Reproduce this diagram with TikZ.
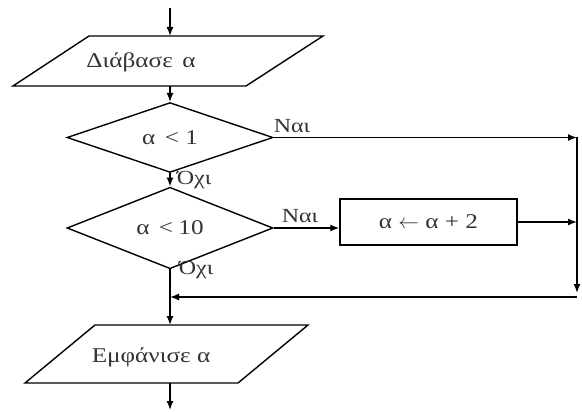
\documentclass[tikz,border=0pt]{standalone}
\usepackage{fontspec}
\setmainfont{Liberation Serif}[FakeStretch=1.2]
\usetikzlibrary{arrows.meta,shapes.geometric}
\tikzset{
  line/.style={draw=black, line width=1.4pt},
  arr/.style={line, -{Latex[length=9pt,width=7pt]}},
  txt/.style={font=\fontsize{21}{23}\selectfont, text=black!80, inner sep=0pt},
  decision/.style={diamond, line, txt, minimum width=206pt, minimum height=51pt, inner sep=0pt},
  process/.style={rectangle, line, txt, minimum width=177pt, minimum height=46pt},
  iobox/.style={line, fill=white},
  lbl/.style={txt, font=\fontsize{20}{22}\selectfont}
}
\begin{document}
\begin{tikzpicture}[x=1pt, y=-1pt]
\useasboundingbox (0,0) rectangle (582,412);
% input parallelogram
\draw[iobox] (89,36) -- (323,36) -- (246,86) -- (13,86) -- cycle;
\node[txt] (rd) at (141,62) {Διάβασε\hspace{0.45em}α};
\coordinate (start) at (170,8);
\coordinate (p1t) at (170,36);
\coordinate (p1b) at (170,86);
% decisions
\node[decision] (d1) at (170,137.5) {α\hspace{0.45em}<\hspace{0.3em}1};
\node[decision] (d2) at (170,228) {α\hspace{0.45em}<\hspace{0.25em}10};
% process
\node[process] (r) at (428.5,222) {α\hspace{0.3em}$\leftarrow$\hspace{0.3em}α + 2};
% output parallelogram
\draw[iobox] (95,325) -- (308,325) -- (238,383) -- (25,383) -- cycle;
\node[txt] (wr) at (151,357) {Εμφάνισε α};
\coordinate (p2t) at (170,325);
\coordinate (p2b) at (170,383);
\coordinate (end) at (170,410);
% right side loop
\coordinate (vtop) at (577,137.5);
\coordinate (vbot) at (577,293);
\coordinate (hst) at (577,297);
\coordinate (join) at (170,297);
\coordinate (rout) at (577,222);
% connectors
\draw[arr] (start) -- (p1t);
\draw[arr] (p1b) -- (d1.north);
\draw[arr] (d1.south) -- (d2.north);
\draw[arr] (d1.east) -- (vtop);
\draw[arr] (d2.east) -- (d2.east -| r.west);
\draw[arr] (r.east) -- (rout);
\draw[arr] (vtop) -- (vbot);
\draw[arr] (hst) -- (join);
\draw[arr] (d2.south) -- (p2t);
\draw[arr] (p2b) -- (end);
% labels
\node[lbl] (y1) at (292,126) {Ναι};
\node[lbl] (n1) at (194,180) {Όχι};
\node[lbl] (y2) at (300,216) {Ναι};
\node[lbl] (n2) at (196,270) {Όχι};
\end{tikzpicture}
\end{document}
